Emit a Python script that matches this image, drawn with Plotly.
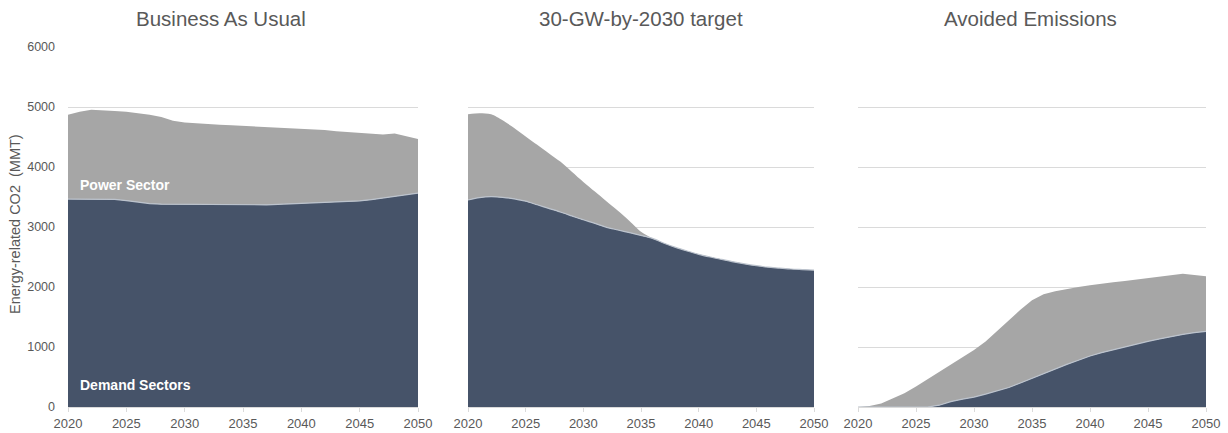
import plotly.graph_objects as go

# Years covered by every scenario
years = list(range(2020, 2051))

# Business As Usual (MMT CO2)
bau_demand = [3465, 3465, 3468, 3468, 3460, 3440, 3410, 3390, 3380, 3378,
              3378, 3375, 3372, 3368, 3366, 3365, 3366, 3370, 3378, 3385,
              3390, 3395, 3405, 3415, 3425, 3435, 3455, 3480, 3510, 3540, 3565]
bau_power = [1405, 1455, 1487, 1482, 1475, 1480, 1490, 1480, 1455, 1392,
             1362, 1350, 1343, 1337, 1329, 1320, 1309, 1300, 1282, 1265,
             1255, 1235, 1210, 1180, 1155, 1130, 1090, 1060, 1050, 970, 900]

# 30-GW-by-2030 target (MMT CO2)
target_demand = [3450, 3490, 3505, 3495, 3470, 3430, 3370, 3310, 3250, 3185,
                 3120, 3060, 2995, 2950, 2905, 2860, 2810, 2730, 2660, 2600,
                 2545, 2500, 2460, 2420, 2385, 2355, 2330, 2315, 2300, 2290, 2280]
target_power = [1430, 1405, 1375, 1285, 1180, 1080, 1000, 920, 840, 735,
                630, 530, 435, 320, 195, 60, 0, 0, 0, 0,
                0, 0, 0, 0, 0, 0, 0, 0, 0, 0, 0]

# Avoided emissions (MMT CO2)
avoided_demand = [0, 0, 0, 0, 0, 0, 0, 30, 90, 130,
                  165, 215, 270, 325, 400, 480, 560, 640, 710, 780,
                  850, 905, 955, 1000, 1050, 1095, 1135, 1175, 1210, 1240, 1260]
avoided_power = [0, 15, 60, 140, 230, 340, 460, 560, 620, 700,
                 785, 875, 1000, 1125, 1220, 1300, 1320, 1290, 1260, 1220,
                 1180, 1155, 1125, 1100, 1075, 1055, 1040, 1025, 1010, 960, 920]

panel_titles = ["Business As Usual", "30-GW-by-2030 target", "Avoided Emissions"]
y_ticks = [0, 1000, 2000, 3000, 4000, 5000, 6000]
x_ticks = [2020, 2025, 2030, 2035, 2040, 2045, 2050]

NAVY = "#465369"
GREY = "#a6a6a6"
EDGE = "#bcc3cd"
TEXT = "#595959"
GRID = "#dadada"
FONT = "Arial, Liberation Sans, Helvetica, sans-serif"

W, H = 1228, 433
plot_top, plot_bottom = 47, 407
panels_px = [(68, 418), (468, 814), (858, 1206)]
title_centers_px = [221, 641, 1030]
line_shapes = ["linear", "spline", "linear"]

scenarios = [
    (bau_demand, bau_power),
    (target_demand, target_power),
    (avoided_demand, avoided_power),
]

fig = go.Figure()
for i, (demand, power) in enumerate(scenarios):
    ax = "" if i == 0 else str(i + 1)
    fig.add_trace(go.Scatter(
        x=years, y=demand, stackgroup=f"s{i}", mode="lines",
        line=dict(color=EDGE, width=1.2, shape=line_shapes[i], smoothing=0.8),
        fillcolor=NAVY,
        xaxis=f"x{ax}", yaxis=f"y{ax}", name="Demand Sectors",
        showlegend=False, hoverinfo="skip"))
    fig.add_trace(go.Scatter(
        x=years, y=power, stackgroup=f"s{i}", mode="lines",
        line=dict(color=GREY, width=0, shape=line_shapes[i], smoothing=0.8),
        fillcolor=GREY,
        xaxis=f"x{ax}", yaxis=f"y{ax}", name="Power Sector",
        showlegend=False, hoverinfo="skip"))

layout = dict(
    width=W, height=H,
    margin=dict(l=0, r=0, t=plot_top, b=H - plot_bottom, pad=0, autoexpand=False),
    paper_bgcolor="white", plot_bgcolor="white",
    font=dict(family=FONT, color=TEXT, size=13),
    annotations=[],
)

for i, (x0, x1) in enumerate(panels_px):
    ax = "" if i == 0 else str(i + 1)
    layout[f"xaxis{ax}"] = dict(
        domain=[x0 / W, x1 / W], anchor=f"y{ax}", automargin=False,
        range=[2020, 2050], tickvals=x_ticks, ticktext=[str(t) for t in x_ticks],
        showgrid=False, zeroline=False,
        showline=True, linecolor=GRID, linewidth=1,
        ticks="outside", ticklen=4, tickcolor=GRID,
        tickfont=dict(size=13, color=TEXT), fixedrange=True)
    layout[f"yaxis{ax}"] = dict(
        anchor=f"x{ax}", domain=[0, 1], automargin=False,
        range=[0, 6000], tickvals=y_ticks,
        showticklabels=(i == 0), ticklabelstandoff=12,
        showgrid=True, gridcolor=GRID, gridwidth=1,
        zeroline=False, showline=False,
        tickfont=dict(size=12.5, color=TEXT), fixedrange=True)
    layout["annotations"].append(dict(
        text=panel_titles[i], xref="paper", yref="paper",
        x=title_centers_px[i] / W, y=(plot_bottom - 18) / (plot_bottom - plot_top),
        xanchor="center", yanchor="middle", showarrow=False,
        font=dict(size=20.5, color=TEXT)))

# Y-axis title
layout["annotations"].append(dict(
    text="Energy-related CO2  (MMT)", xref="paper", yref="paper",
    x=15 / W, y=(plot_bottom - 224) / (plot_bottom - plot_top),
    xanchor="center", yanchor="middle",
    textangle=-90, showarrow=False, font=dict(size=14.5, color=TEXT)))

# In-area series labels on the first panel
layout["annotations"].append(dict(
    text="<b>Power Sector</b>", xref="x", yref="y", x=2020.85, y=3700,
    xanchor="left", yanchor="middle", showarrow=False,
    font=dict(size=14, color="white")))
layout["annotations"].append(dict(
    text="<b>Demand Sectors</b>", xref="x", yref="y", x=2020.85, y=370,
    xanchor="left", yanchor="middle", showarrow=False,
    font=dict(size=14, color="white")))

fig.update_layout(**layout)
fig.write_html("out.html", config={"displayModeBar": False})
